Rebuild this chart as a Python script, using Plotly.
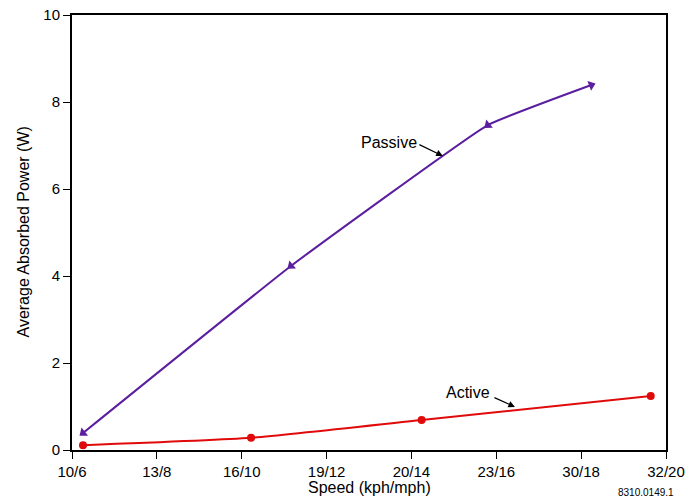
import plotly.graph_objects as go

# Speed settings shown on the x axis (kph/mph), evenly spaced
speed_labels = ["10/6", "13/8", "16/10", "19/12", "20/14", "23/16", "30/18", "32/20"]
speed_pos = list(range(len(speed_labels)))

# Passive damping: average absorbed power (W)
passive_x = [0.13, 2.58, 4.90, 6.12]
passive_y = [0.39, 4.23, 7.47, 8.39]

# Active damping: average absorbed power (W)
active_x = [0.13, 2.11, 4.12, 6.82]
active_y = [0.11, 0.28, 0.69, 1.24]

PURPLE = "#5a1e9f"
RED = "#e00a0a"
FONT = "Liberation Sans, Arial, sans-serif"

fig = go.Figure()

fig.add_trace(go.Scatter(
    x=passive_x, y=passive_y, mode="lines+markers", name="Passive",
    line=dict(color=PURPLE, width=2, shape="spline", smoothing=0.3),
    marker=dict(symbol="triangle-up", size=9, color=PURPLE,
                angle=[231, 231, 231, 69]),
    showlegend=False,
))

fig.add_trace(go.Scatter(
    x=active_x, y=active_y, mode="lines+markers", name="Active",
    line=dict(color=RED, width=2, shape="spline", smoothing=0.5),
    marker=dict(symbol="circle", size=8, color=RED),
    showlegend=False,
))

# Series labels with pointer arrows
fig.add_annotation(x=4.37, y=6.76, xref="x", yref="y", text="",
                   showarrow=True, arrowhead=2, arrowsize=1.1, arrowwidth=1.2,
                   arrowcolor="black", ax=-25, ay=-12)
fig.add_annotation(x=3.74, y=7.06, xref="x", yref="y", text="Passive",
                   showarrow=False, font=dict(family=FONT, size=16, color="black"))

fig.add_annotation(x=5.22, y=0.99, xref="x", yref="y", text="",
                   showarrow=True, arrowhead=2, arrowsize=1.1, arrowwidth=1.2,
                   arrowcolor="black", ax=-22, ay=-10)
fig.add_annotation(x=4.67, y=1.33, xref="x", yref="y", text="Active",
                   showarrow=False, font=dict(family=FONT, size=16, color="black"))

# Axis titles
fig.add_annotation(x=0.5, y=0.0, xref="paper", yref="paper", yanchor="middle",
                   yshift=-37, text="Speed (kph/mph)", showarrow=False,
                   font=dict(family=FONT, size=16, color="black"))
fig.add_annotation(x=0.0, y=0.5, xref="paper", yref="paper", xanchor="center",
                   xshift=-49, textangle=-90, text="Average Absorbed Power (W)",
                   showarrow=False, font=dict(family=FONT, size=16, color="black"))

# Figure reference number
fig.add_annotation(x=1.0, y=0.0, xref="paper", yref="paper", xanchor="right",
                   yanchor="top", xshift=10, yshift=-35, text="8310.0149.1",
                   showarrow=False, font=dict(family=FONT, size=10, color="black"))

fig.update_layout(
    width=698, height=500,
    margin=dict(l=72, r=32, t=15, b=50),
    paper_bgcolor="white", plot_bgcolor="white",
    font=dict(family=FONT, size=15, color="black"),
    xaxis=dict(
        range=[0, 7], tickmode="array", tickvals=speed_pos, ticktext=speed_labels,
        showgrid=False, zeroline=False, showline=True, linecolor="black",
        linewidth=2, mirror=True, ticks="outside", ticklen=7, tickwidth=1,
        tickcolor="black", tickfont=dict(size=15), automargin=False,
    ),
    yaxis=dict(
        range=[0, 10], tickvals=[0, 2, 4, 6, 8, 10],
        showgrid=False, zeroline=False, showline=True, linecolor="black",
        linewidth=2, mirror=True, ticks="outside", ticklen=7, tickwidth=1,
        tickcolor="black", tickfont=dict(size=15), automargin=False,
    ),
)

fig.write_html("out.html")
